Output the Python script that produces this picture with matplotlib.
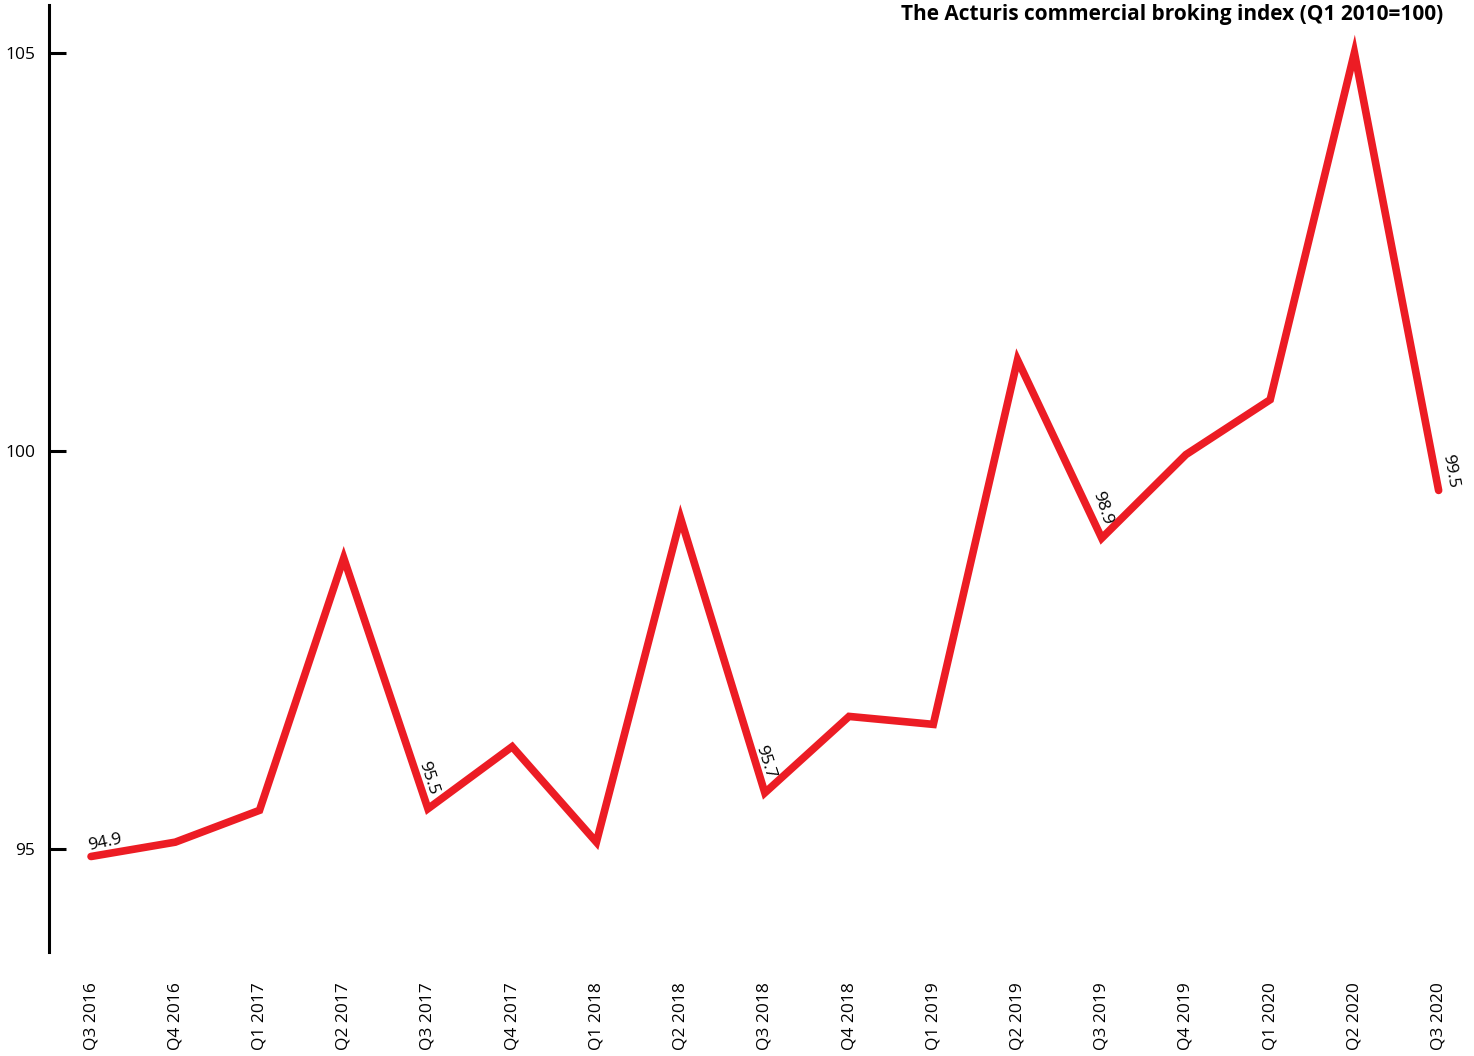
import matplotlib.pyplot as plt

# data
quarters = ['Q3 2016', 'Q4 2016', 'Q1 2017', 'Q2 2017', 'Q3 2017', 'Q4 2017',
            'Q1 2018', 'Q2 2018', 'Q3 2018', 'Q4 2018', 'Q1 2019', 'Q2 2019',
            'Q3 2019', 'Q4 2019', 'Q1 2020', 'Q2 2020', 'Q3 2020']
index = [94.9, 95.08, 95.48, 98.65, 95.5, 96.28, 95.08, 99.15, 95.7, 96.66, 96.56,
         101.14, 98.9, 99.95, 100.64, 105.0, 99.5]

# which points get a value label, with rotation and offset (points)
labelled = {0: (12, 10, 10), 4: (-72, 0, 22), 8: (-72, 0, 22), 12: (-72, 0, 22), 16: (-80, 8, 14)}

plt.rcParams['font.family'] = ['Open Sans', 'DejaVu Sans']

fig = plt.figure(figsize=(14.74, 10.56), dpi=100)
ax = fig.add_axes([0.0332, 0.0985, 0.9668, 0.8968])

x = list(range(len(quarters)))
ax.plot(x, index, color='#ec1c24', linewidth=5.5, solid_capstyle='round',
        solid_joinstyle='miter')

for i, (rot, dx, dy) in labelled.items():
    ax.annotate(f'{index[i]:.1f}', (x[i], index[i]), xytext=(dx, dy),
                textcoords='offset points', rotation=rot, fontsize=12.5,
                ha='center', va='center', rotation_mode='anchor')

ax.set_xlim(-0.5, 16.42)
ax.set_ylim(93.7, 105.6)
ax.set_yticks([95, 100, 105])
ax.set_yticklabels(['95', '100', '105'])
ax.set_xticks(x)
ax.set_xticklabels(quarters, rotation=90)

for s in ['top', 'right', 'bottom']:
    ax.spines[s].set_visible(False)
ax.spines['left'].set_linewidth(2.2)
ax.tick_params(axis='y', direction='in', length=12, width=2.2, labelsize=12.5, pad=10)
ax.tick_params(axis='x', length=0, labelsize=12.5, pad=22)

fig.text(0.979, 0.986, 'The Acturis commercial broking index (Q1 2010=100)',
         ha='right', va='center', fontsize=15, fontweight='bold')

plt.savefig('out.png', dpi=100)
